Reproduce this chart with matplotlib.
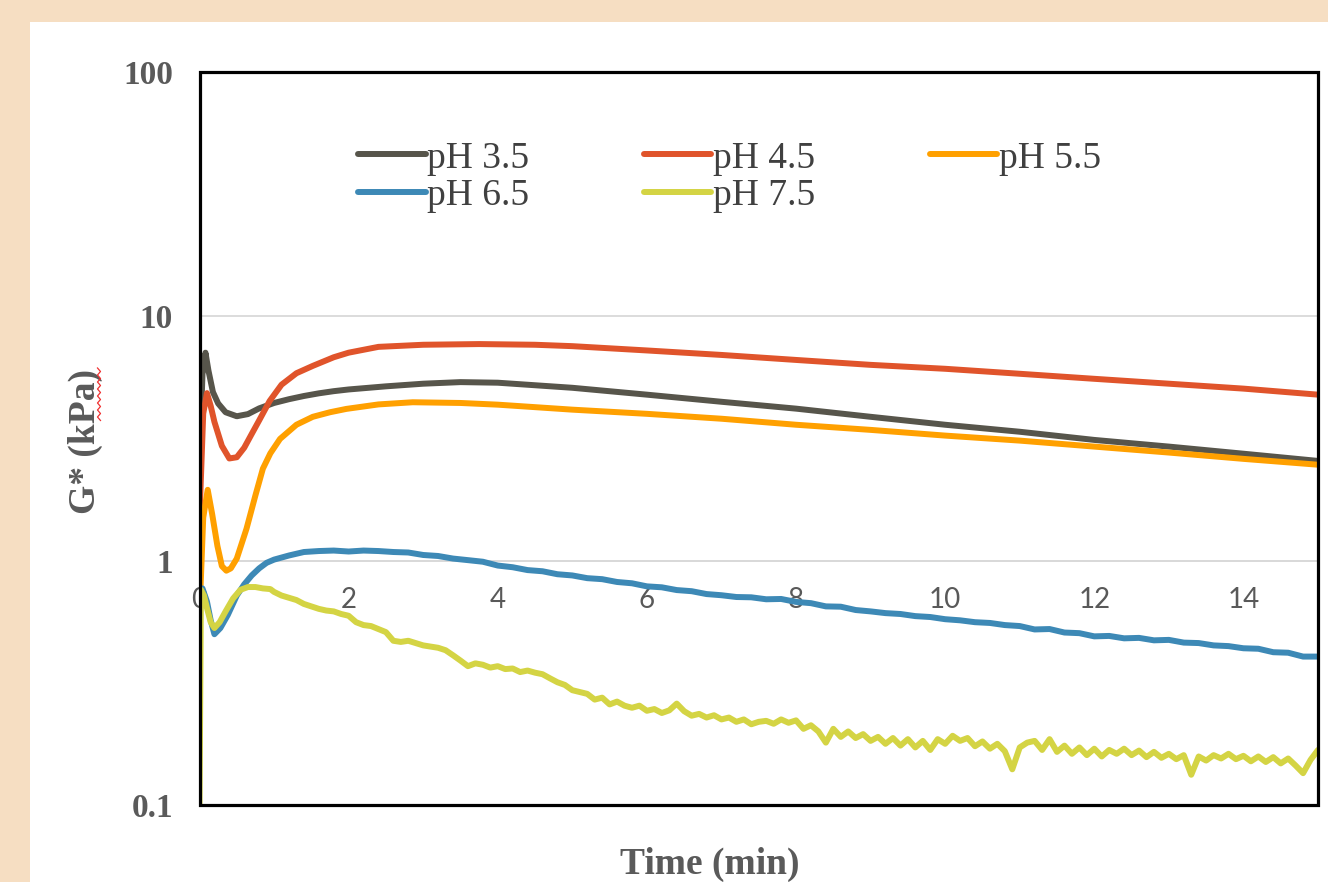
import numpy as np
import matplotlib
matplotlib.use("Agg")
import matplotlib.pyplot as plt
from matplotlib.patches import Rectangle
from matplotlib.lines import Line2D
from matplotlib.font_manager import FontProperties

# ---------------- data ----------------
labels = ["pH 3.5", "pH 4.5", "pH 5.5", "pH 6.5", "pH 7.5"]
colors = ["#57554B", "#E0542B", "#FFA000", "#3D89B6", "#D4D444"]

t_35 = [0, 0.04, 0.08, 0.12, 0.18, 0.25, 0.35, 0.5, 0.65, 0.8, 1.0, 1.2, 1.4,
        1.6, 1.8, 2.0, 2.5, 3.0, 3.5, 4.0, 5.0, 6.0, 7.0, 8.0, 9.0, 10.0,
        11.0, 12.0, 13.0, 14.0, 15.0]
g_35 = [2.5, 5.8, 7.1, 6.0, 4.9, 4.4, 4.05, 3.9, 3.98, 4.2, 4.42, 4.58, 4.72,
        4.84, 4.94, 5.02, 5.17, 5.3, 5.38, 5.35, 5.1, 4.78, 4.47, 4.19, 3.88,
        3.6, 3.37, 3.12, 2.93, 2.74, 2.56]

t_45 = [0, 0.05, 0.1, 0.15, 0.2, 0.3, 0.4, 0.5, 0.6, 0.7, 0.8, 0.94, 1.1, 1.3,
        1.52, 1.8, 2.0, 2.4, 3.0, 3.75, 4.5, 5.0, 6.0, 7.0, 8.0, 9.0, 10.0,
        11.0, 12.0, 13.0, 14.0, 15.0]
g_45 = [1.5, 4.0, 4.85, 4.3, 3.7, 2.95, 2.62, 2.65, 2.9, 3.3, 3.75, 4.5, 5.25,
        5.85, 6.27, 6.8, 7.1, 7.5, 7.65, 7.7, 7.65, 7.55, 7.25, 6.95, 6.63,
        6.33, 6.1, 5.82, 5.55, 5.3, 5.06, 4.78]

t_55 = [0, 0.05, 0.11, 0.17, 0.24, 0.3, 0.36, 0.42, 0.5, 0.63, 0.75, 0.85,
        0.95, 1.08, 1.3, 1.52, 1.75, 1.97, 2.4, 2.86, 3.5, 4.0, 5.0, 6.0, 7.0,
        8.0, 9.0, 10.0, 11.0, 12.0, 13.0, 14.0, 15.0]
g_55 = [0.6, 1.5, 1.95, 1.55, 1.15, 0.95, 0.91, 0.93, 1.02, 1.35, 1.85, 2.38,
        2.75, 3.15, 3.6, 3.88, 4.05, 4.18, 4.36, 4.45, 4.42, 4.35, 4.15, 3.99,
        3.81, 3.6, 3.43, 3.25, 3.1, 2.93, 2.77, 2.61, 2.47]

t_65_start = [0, 0.04, 0.1, 0.15, 0.2, 0.28, 0.38, 0.5, 0.6, 0.7, 0.8, 0.9]
g_65_start = [0.6, 0.77, 0.68, 0.57, 0.5, 0.53, 0.6, 0.72, 0.8, 0.87, 0.93, 0.98]
t_65_grid = np.round(np.arange(1.0, 15.001, 0.2), 2)
g_65_grid = [1.01, 1.05, 1.085, 1.095, 1.1,
             1.09, 1.1, 1.095, 1.085, 1.08,
             1.055, 1.045, 1.02, 1.005, 0.99,
             0.955, 0.94, 0.915, 0.905, 0.88,
             0.87, 0.848, 0.84, 0.818, 0.808,
             0.785, 0.778, 0.758, 0.75, 0.73,
             0.722, 0.71, 0.708, 0.695, 0.697,
             0.678, 0.67, 0.65, 0.648, 0.628,
             0.62, 0.61, 0.605, 0.593, 0.588,
             0.576, 0.57, 0.56, 0.556, 0.545,
             0.54, 0.523, 0.525, 0.508, 0.505,
             0.49, 0.492, 0.481, 0.483, 0.472,
             0.474, 0.462, 0.46, 0.45, 0.447,
             0.438, 0.436, 0.422, 0.42, 0.405,
             0.405]

t_75_start = [0, 0.02, 0.06, 0.1, 0.15, 0.2, 0.27, 0.35, 0.45, 0.55, 0.65,
              0.75, 0.85, 0.95]
g_75_start = [0.1, 0.76, 0.72, 0.64, 0.56, 0.53, 0.56, 0.62, 0.7, 0.76, 0.78,
              0.78, 0.77, 0.765]
t_75_grid = np.round(np.arange(1.0, 15.001, 0.1), 2)
g_75_grid = [0.745, 0.72, 0.705, 0.69, 0.665, 0.65, 0.635, 0.625, 0.62, 0.605,
             0.595, 0.56, 0.545, 0.54, 0.525, 0.51, 0.47, 0.465, 0.47, 0.46,
             0.45, 0.445, 0.44, 0.43, 0.41, 0.39, 0.37, 0.38, 0.375, 0.365,
             0.37, 0.36, 0.362, 0.35, 0.355, 0.348, 0.343, 0.33, 0.318, 0.31,
             0.295, 0.29, 0.285, 0.27, 0.275, 0.258, 0.265, 0.255, 0.25, 0.255,
             0.243, 0.247, 0.238, 0.244, 0.26, 0.242, 0.232, 0.236, 0.228, 0.233,
             0.224, 0.228, 0.219, 0.224, 0.214, 0.219, 0.221, 0.215, 0.224, 0.217,
             0.222, 0.205, 0.212, 0.2, 0.18, 0.205, 0.19, 0.2, 0.188, 0.195,
             0.183, 0.19, 0.178, 0.188, 0.175, 0.186, 0.172, 0.183, 0.168, 0.186,
             0.178, 0.192, 0.183, 0.188, 0.174, 0.182, 0.17, 0.178, 0.166, 0.14,
             0.172, 0.18, 0.183, 0.168, 0.186, 0.165, 0.175, 0.162, 0.172, 0.16,
             0.17, 0.158, 0.168, 0.162, 0.17, 0.16, 0.167, 0.157, 0.165, 0.156,
             0.162, 0.154, 0.16, 0.133, 0.158, 0.152, 0.16, 0.155, 0.162, 0.154,
             0.159, 0.151, 0.158, 0.15, 0.157, 0.148, 0.155, 0.145, 0.135, 0.153,
             0.168]

x_ticks = [0, 2, 4, 6, 8, 10, 12, 14]
y_ticks = [0.1, 1, 10, 100]
y_ticklabels = ["0.1", "1", "10", "100"]

series_t = [t_35, t_45, t_55,
            list(t_65_start) + list(t_65_grid),
            list(t_75_start) + list(t_75_grid)]
series_g = [g_35, g_45, g_55,
            g_65_start + g_65_grid,
            g_75_start + g_75_grid]

# ---------------- figure ----------------
W, H = 1328, 882
fig = plt.figure(figsize=(W / 100, H / 100), dpi=100)
fig.patch.set_facecolor("#F6DEC2")
fig.patches.append(Rectangle((30 / W, 0), 1 - 30 / W, 1 - 22 / H,
                             transform=fig.transFigure, facecolor="white",
                             edgecolor="none", zorder=-10))

ax = fig.add_axes([199.5 / W, 1 - 805 / H, (1318 - 199.5) / W, (805 - 72) / H])
ax.set_zorder(1)
ax.set_facecolor("white")
ax.set_yscale("log")

handles = []
for t, g, c, lab in zip(series_t, series_g, colors, labels):
    h, = ax.plot(t, g, color=c, lw=4.3, solid_joinstyle="round",
                 solid_capstyle="round", label=lab, zorder=3)
    handles.append(h)

ax.set_xlim(0, 15)
ax.set_ylim(0.1, 100)

# x axis crossing at 1 (done first: repositioning the spine resets ticks)
ax.spines["bottom"].set_position(("data", 1))
ax.spines["bottom"].set_color("#D9D9D9")
ax.spines["bottom"].set_linewidth(1.3)
for s in ["top", "left", "right"]:
    ax.spines[s].set_visible(False)
ax.set_xticks(x_ticks)
ax.set_xticklabels([str(v) for v in x_ticks])
ax.tick_params(axis="x", length=0, pad=19, labelcolor="#595959",
               labelsize=20, labelfontfamily="Lato")

# y axis
ax.yaxis.set_major_locator(matplotlib.ticker.FixedLocator(y_ticks))
ax.yaxis.set_minor_locator(matplotlib.ticker.NullLocator())
ax.set_yticklabels(y_ticklabels)
ax.tick_params(axis="y", length=0, pad=19, labelcolor="#5A5A5A",
               labelsize=24, labelfontfamily="Liberation Serif")
for lbl in ax.get_yticklabels():
    lbl.set_fontweight("bold")
ax.yaxis.grid(True, color="#D9D9D9", lw=1.3, zorder=1)

ax.add_patch(Rectangle((0, 0), 1, 1, transform=ax.transAxes, fill=False,
                       lw=2.3, ec="black", clip_on=False, zorder=6))

# axis labels
lab_font = dict(family="Liberation Serif", weight="bold", size=27, color="#5A5A5A")
ax.set_xlabel("Time (min)", **lab_font)
ax.xaxis.set_label_coords((710 - 199.5) / (1318 - 199.5), (805 - 864) / (805 - 72))
ax.xaxis.label.set_va("center")
ax.set_ylabel("G* (kPa)", **lab_font)
ax.yaxis.set_label_coords((85 - 199.5) / (1318 - 199.5), (805 - 441) / (805 - 72))
ax.yaxis.label.set_va("center")

# spell-check squiggle under "kPa"
sq_y = np.arange(368, 421, 3.5)
sq_x = np.where(np.arange(len(sq_y)) % 2 == 0, 97.5, 100.5)
fig.add_artist(Line2D(sq_x / W, 1 - sq_y / H, transform=fig.transFigure,
                      color="#F03030", lw=0.9, zorder=5))

# legend (row-wise order like the reference)
order = [0, 3, 1, 4, 2]
leg = ax.legend([handles[i] for i in order], [labels[i] for i in order],
                ncol=3, loc="upper left",
                bbox_to_anchor=(358 / W, 1 - 141 / H),
                bbox_transform=fig.transFigure, frameon=False,
                prop=FontProperties(family="Liberation Serif", size=27),
                handlelength=1.8, handletextpad=0.05, columnspacing=3.05,
                labelspacing=0.08, borderpad=0, borderaxespad=0)
for txt in leg.get_texts():
    txt.set_color("#404040")

fig.savefig("out.png", dpi=100, facecolor=fig.get_facecolor())
